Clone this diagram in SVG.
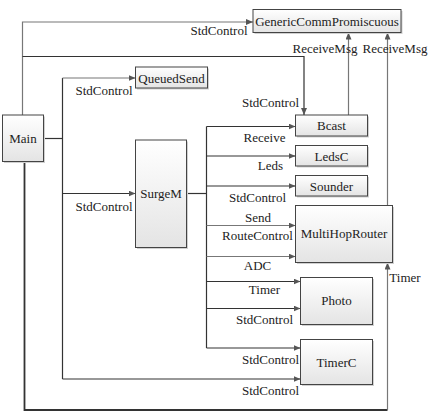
<svg xmlns="http://www.w3.org/2000/svg" width="432" height="413" viewBox="0 0 432 413">
<defs>
<linearGradient id="g" x1="0" y1="0" x2="0" y2="1">
<stop offset="0" stop-color="#ffffff"/>
<stop offset="1" stop-color="#e4e4e4"/>
</linearGradient>
<marker id="a" markerWidth="7" markerHeight="6" refX="7" refY="3" orient="auto" markerUnits="userSpaceOnUse">
<path d="M0,0 L7,3 L0,6 z" fill="#555"/>
</marker>
</defs>
<style>
.box{fill:url(#g);stroke:#444;stroke-width:1}
.sh{fill:#d0d0d0;stroke:none}
text{font-family:'Liberation Serif','DejaVu Serif',serif;font-size:13px;fill:#222;text-anchor:middle}
.d{fill:none;stroke:#333;stroke-width:1.2}
.gr{fill:none;stroke:#777;stroke-width:1.2}
.ar{marker-end:url(#a)}
</style>
<rect width="432" height="413" fill="#fff"/>
<g id="connectors">
<path class="gr ar" d="M22.5,115 V22 H253"/>
<path class="d ar" d="M22.5,56.5 H304 V115"/>
<path class="d" d="M43.5,138.5 H62.5"/>
<path class="d" d="M62.5,78 V379"/>
<path class="gr ar" d="M62.5,78 H135.5"/>
<path class="d ar" d="M62.5,193.5 H135.5"/>
<path class="d ar" d="M62.5,379 H300.5"/>
<path class="d" d="M24.5,161.5 V410 H387.5" style="stroke-width:1.8"/>
<path class="gr ar" d="M387.5,410 V262.5"/>
<path class="d" d="M186.5,193.5 H206.5"/>
<path class="d" d="M206.5,126.5 V348"/>
<path class="d ar" d="M206.5,126.5 H295.5"/>
<path class="d ar" d="M206.5,156 H295.5"/>
<path class="d ar" d="M206.5,186 H295.5"/>
<path class="gr ar" d="M206.5,225.5 H295.5"/>
<path class="gr ar" d="M206.5,256.5 H295.5"/>
<path class="d ar" d="M206.5,281.5 H300.5"/>
<path class="d ar" d="M206.5,308.5 H300.5"/>
<path class="d ar" d="M206.5,348 H300.5"/>
<path class="gr ar" d="M348.5,115 V32.5"/>
<path class="gr ar" d="M387.5,205.5 V32.5"/>
<g font-family="Liberation Serif, serif">
<text x="219" y="35">StdControl</text>
<text x="325" y="53">ReceiveMsg</text>
<text x="395" y="53">ReceiveMsg</text>
<text x="104" y="95">StdControl</text>
<text x="104" y="211">StdControl</text>
<text x="270.5" y="106.5">StdControl</text>
<text x="264.5" y="141.5">Receive</text>
<text x="270.5" y="170">Leds</text>
<text x="257.5" y="201.5">StdControl</text>
<text x="258" y="221.5">Send</text>
<text x="257.5" y="240">RouteControl</text>
<text x="257.5" y="270">ADC</text>
<text x="264.5" y="293.5">Timer</text>
<text x="264.5" y="323.5">StdControl</text>
<text x="270.5" y="363.5">StdControl</text>
<text x="270.5" y="395">StdControl</text>
<text x="405" y="281.5">Timer</text>
</g>
</g>
<g id="Main">
<rect class="sh" x="4" y="116.5" width="41" height="46.5"/>
<rect class="box" x="2.5" y="115" width="41" height="46.5"/>
<text x="23" y="143">Main</text>
</g>
<g id="QueuedSend">
<rect class="sh" x="137" y="68.5" width="72" height="21"/>
<rect class="box" x="135.5" y="67" width="72" height="21"/>
<text x="171.5" y="83.3">QueuedSend</text>
</g>
<g id="SurgeM">
<rect class="sh" x="137" y="141.5" width="51" height="107.5"/>
<rect class="box" x="135.5" y="140" width="51" height="107.5"/>
<text x="161" y="198.3">SurgeM</text>
</g>
<g id="GenericCommPromiscuous">
<rect class="sh" x="254.5" y="11" width="148" height="23"/>
<rect class="box" x="253" y="9.5" width="148" height="23"/>
<text x="327" y="26">GenericCommPromiscuous</text>
</g>
<g id="Bcast">
<rect class="sh" x="297" y="116.5" width="72" height="21"/>
<rect class="box" x="295.5" y="115" width="72" height="21"/>
<text x="331.5" y="130">Bcast</text>
</g>
<g id="LedsC">
<rect class="sh" x="297" y="147" width="72" height="20.5"/>
<rect class="box" x="295.5" y="145.5" width="72" height="20.5"/>
<text x="331.5" y="161">LedsC</text>
</g>
<g id="Sounder">
<rect class="sh" x="297" y="177" width="72" height="20.5"/>
<rect class="box" x="295.5" y="175.5" width="72" height="20.5"/>
<text x="331.5" y="190.7">Sounder</text>
</g>
<g id="MultiHopRouter">
<rect class="sh" x="297" y="207" width="97" height="57"/>
<rect class="box" x="295.5" y="205.5" width="97" height="57"/>
<text x="344" y="238.3">MultiHopRouter</text>
</g>
<g id="Photo">
<rect class="sh" x="302" y="279" width="72" height="47"/>
<rect class="box" x="300.5" y="277.5" width="72" height="47"/>
<text x="336.5" y="305">Photo</text>
</g>
<g id="TimerC">
<rect class="sh" x="302" y="341" width="72" height="45"/>
<rect class="box" x="300.5" y="339.5" width="72" height="45"/>
<text x="336.5" y="366.7">TimerC</text>
</g>
</svg>
